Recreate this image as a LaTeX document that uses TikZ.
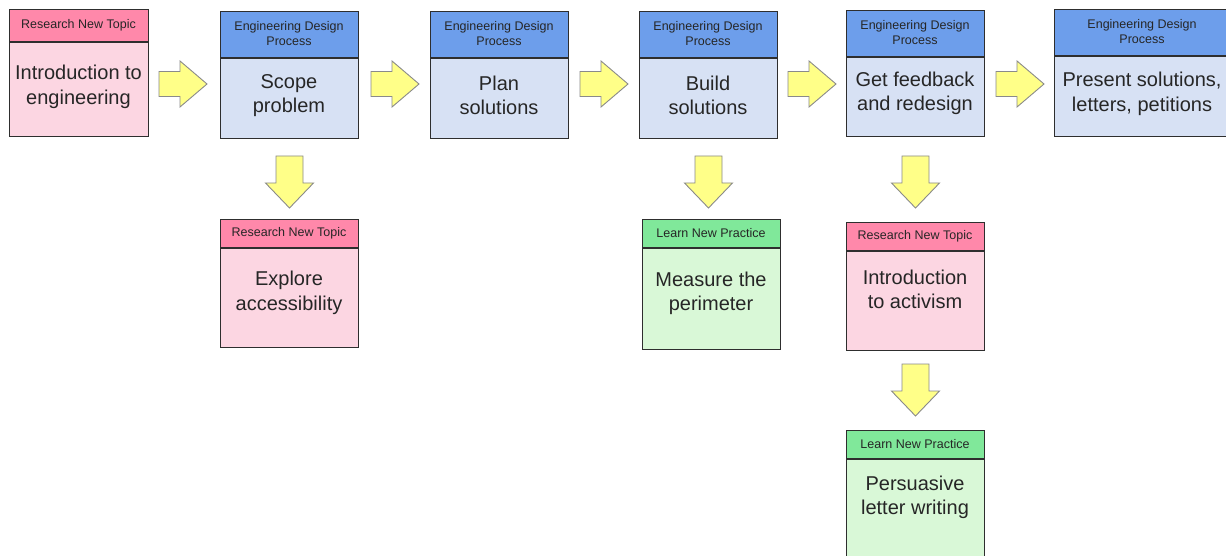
\documentclass[tikz,border=0pt]{standalone}
\usepackage{fontspec}
\setmainfont{Liberation Sans}
\definecolor{pinkH}{HTML}{FF88AA}
\definecolor{pinkB}{HTML}{FCD6E2}
\definecolor{blueH}{HTML}{6D9EEB}
\definecolor{blueB}{HTML}{D7E1F4}
\definecolor{greenH}{HTML}{80E89A}
\definecolor{greenB}{HTML}{D9F8D7}
\definecolor{arrowF}{HTML}{FFFF88}
\definecolor{arrowL}{HTML}{8A8A8A}
\definecolor{lineC}{HTML}{2E2E2E}
\definecolor{txt}{HTML}{262626}
\tikzset{
  box/.style={draw=lineC, line width=1pt, inner sep=0pt, anchor=north west},
  hdrtext/.style={font=\fontsize{12.5}{15}\selectfont, text=txt, align=center, inner sep=0pt},
  bodytext/.style={font=\fontsize{20}{24.5}\selectfont, text=txt, align=center, inner sep=0pt},
  barrow/.style={draw=arrowL, fill=arrowF, line width=0.9pt, line join=miter}
}
\newcommand\RArr[1]{\draw[barrow] (#1) ++(0,-12.5) -- ++(21,0) -- ++(0,-10.5) -- ++(27,23) -- ++(-27,23) -- ++(0,-10.5) -- ++(-21,0) -- cycle;}
\newcommand\DArr[1]{\draw[barrow] (#1) ++(-13.5,0) -- ++(0,27) -- ++(-10.5,0) -- ++(24,25) -- ++(24,-25) -- ++(-10.5,0) -- ++(0,-27) -- cycle;}
\begin{document}
\begin{tikzpicture}[x=1pt,y=-1pt]
\useasboundingbox (0,0) rectangle (1226,556);
\clip (0,0) rectangle (1226,556);
\fill[white] (0,0) rectangle (1226,556);

% Box 1: Introduction to engineering
\node[box, fill=pinkH, minimum width=139pt, minimum height=32pt] (h1) at (9,9) {};
\node[box, fill=pinkB, minimum width=139pt, minimum height=94pt] (b1) at (h1.south west) {};
\node[hdrtext] (ht1) at (78.5,25) {Research New Topic};
\node[bodytext] (t1) at (78.5,87) {Introduction to\\engineering};

% Box 2: Scope problem
\node[box, fill=blueH, minimum width=138pt, minimum height=46pt] (h2) at (220,11) {};
\node[box, fill=blueB, minimum width=138pt, minimum height=80pt] (b2) at (h2.south west) {};
\node[hdrtext] (ht2) at (289,33.5) {Engineering Design\\Process};
\node[bodytext] (t2) at (289,95.5) {Scope\\problem};

% Box 3: Plan solutions
\node[box, fill=blueH, minimum width=138pt, minimum height=46pt] (h3) at (430,11) {};
\node[box, fill=blueB, minimum width=138pt, minimum height=80pt] (b3) at (h3.south west) {};
\node[hdrtext] (ht3) at (499,33.5) {Engineering Design\\Process};
\node[bodytext] (t3) at (499,95.5) {Plan\\solutions};

% Box 4: Build solutions
\node[box, fill=blueH, minimum width=138pt, minimum height=46pt] (h4) at (639,11) {};
\node[box, fill=blueB, minimum width=138pt, minimum height=80pt] (b4) at (h4.south west) {};
\node[hdrtext] (ht4) at (708,33.5) {Engineering Design\\Process};
\node[bodytext] (t4) at (708,95.5) {Build\\solutions};

% Box 5: Get feedback and redesign
\node[box, fill=blueH, minimum width=138pt, minimum height=46pt] (h5) at (846,10) {};
\node[box, fill=blueB, minimum width=138pt, minimum height=79pt] (b5) at (h5.south west) {};
\node[hdrtext] (ht5) at (915,32.5) {Engineering Design\\Process};
\node[bodytext] (t5) at (915,93.5) {Get feedback\\and redesign};

% Box 6: Present solutions
\node[box, fill=blueH, minimum width=190pt, minimum height=46pt] (h6) at (1054,9) {};
\node[box, fill=blueB, minimum width=190pt, minimum height=80pt] (b6) at (h6.south west) {};
\node[hdrtext] (ht6) at (1142,31.5) {Engineering Design\\Process};
\node[bodytext] (t6) at (1142,94) {Present solutions,\\letters, petitions};

% Box 7: Explore accessibility
\node[box, fill=pinkH, minimum width=138pt, minimum height=28pt] (h7) at (220,219) {};
\node[box, fill=pinkB, minimum width=138pt, minimum height=99pt] (b7) at (h7.south west) {};
\node[hdrtext] (ht7) at (289,233.5) {Research New Topic};
\node[bodytext] (t7) at (289,293) {Explore\\accessibility};

% Box 8: Measure the perimeter
\node[box, fill=greenH, minimum width=138pt, minimum height=28pt] (h8) at (642,219) {};
\node[box, fill=greenB, minimum width=138pt, minimum height=101pt] (b8) at (h8.south west) {};
\node[hdrtext] (ht8) at (711,233.5) {Learn New Practice};
\node[bodytext] (t8) at (711,293.5) {Measure the\\perimeter};

% Box 9: Introduction to activism
\node[box, fill=pinkH, minimum width=138pt, minimum height=28pt] (h9) at (846,222) {};
\node[box, fill=pinkB, minimum width=138pt, minimum height=99pt] (b9) at (h9.south west) {};
\node[hdrtext] (ht9) at (915,236.5) {Research New Topic};
\node[bodytext] (t9) at (915,289.5) {Introduction\\to activism};

% Box 10: Persuasive letter writing
\node[box, fill=greenH, minimum width=138pt, minimum height=28pt] (h10) at (846,430) {};
\node[box, fill=greenB, minimum width=138pt, minimum height=140pt] (b10) at (h10.south west) {};
\node[hdrtext] (ht10) at (915,444.5) {Learn New Practice};
\node[bodytext] (t10) at (915,497.5) {Persuasive\\letter writing};

% Block arrows
\coordinate (r1) at (159,84);
\coordinate (r2) at (371,84);
\coordinate (r3) at (580,84);
\coordinate (r4) at (788,84);
\coordinate (r5) at (996,84);
\RArr{r1}\RArr{r2}\RArr{r3}\RArr{r4}\RArr{r5}
\coordinate (d1) at (289.5,156);
\coordinate (d2) at (708.5,156);
\coordinate (d3) at (915.5,156);
\coordinate (d4) at (915.5,364);
\DArr{d1}\DArr{d2}\DArr{d3}\DArr{d4}
\end{tikzpicture}
\end{document}
